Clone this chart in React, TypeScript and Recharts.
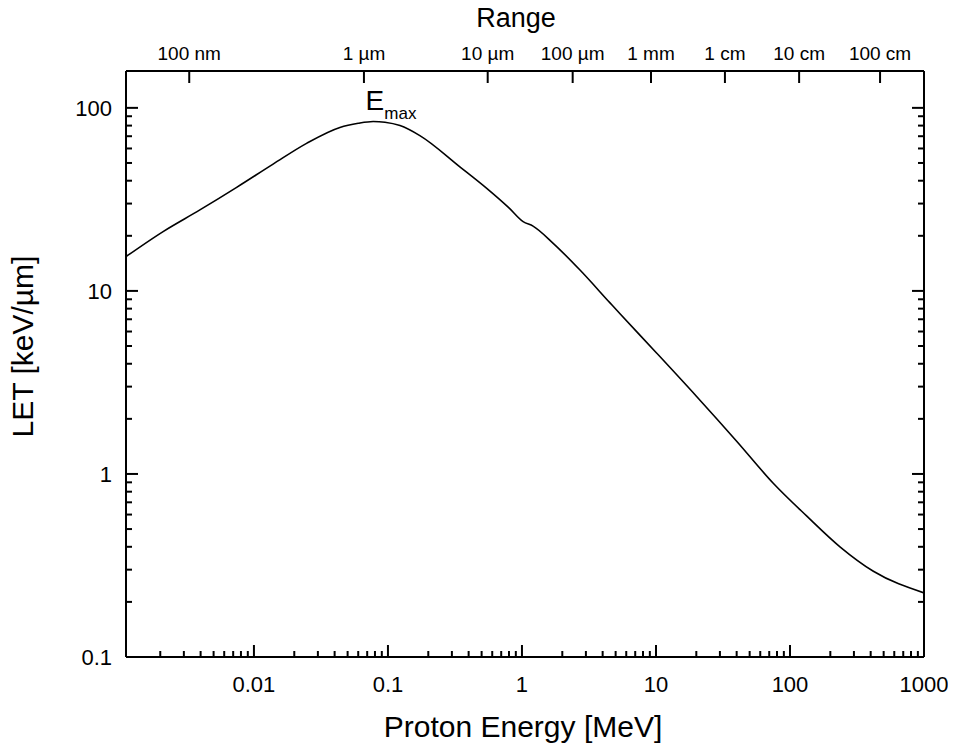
import React from 'react';
import { LineChart, Line, XAxis, YAxis, ReferenceDot } from 'recharts';

// Proton energy [MeV] and LET [keV/µm]
const energy = [0.00111, 0.0021, 0.00395, 0.00743, 0.0139, 0.0247, 0.0438, 0.06, 0.0776, 0.095, 0.123, 0.173, 0.344, 0.546, 0.8, 1.02, 1.21, 1.71, 2.71, 4.54, 5.39, 10.1, 20.1, 40, 75, 133, 236, 419, 1000];
const letValues = [15.4, 21.1, 27.7, 36.8, 49.3, 64.0, 78.2, 82.4, 84.3, 83.5, 80.0, 70.5, 47.6, 36.3, 28.4, 23.9, 22.6, 18.2, 13.0, 8.6, 7.5, 4.58, 2.65, 1.51, 0.89, 0.59, 0.40, 0.294, 0.224];

// Bottom axis ticks
const E_MAJOR = [0.01, 0.1, 1, 10, 100, 1000];
const E_MAJOR_LABELS = ['0.01', '0.1', '1', '10', '100', '1000'];
const E_DECADES = [0.001, 0.01, 0.1, 1, 10, 100];
const MINOR_MULT = [2, 3, 4, 5, 6, 7, 8, 9];

// Left / right axis ticks
const LET_MAJOR = [0.1, 1, 10, 100];
const LET_MAJOR_LABELS = ['0.1', '1', '10', '100'];
const LET_DECADES = [0.1, 1, 10];

// Top axis (range) ticks: energy positions and labels
const RANGE_E = [0.00329, 0.0662, 0.555, 2.39, 9.18, 32.7, 117, 470];
const RANGE_LABELS = ['100 nm', '1 µm', '10 µm', '100 µm', '1 mm', '1 cm', '10 cm', '100 cm'];

const E_DOMAIN: [number, number] = [0.00111, 1000];
const LET_DOMAIN: [number, number] = [0.1, 159];

const data = energy.map((e, i) => ({ e, let: letValues[i] }));

const E_TICKS: number[] = [];
E_DECADES.forEach((d) => {
  MINOR_MULT.forEach((m) => E_TICKS.push(+(m * d).toPrecision(6)));
  E_TICKS.push(+(10 * d).toPrecision(6));
});
const LET_TICKS: number[] = [0.1];
LET_DECADES.forEach((d) => {
  MINOR_MULT.forEach((m) => LET_TICKS.push(+(m * d).toPrecision(6)));
  LET_TICKS.push(+(10 * d).toPrecision(6));
});

const FONT = '"Liberation Sans", Arial, Helvetica, sans-serif';

const majorIndex = (v: number, majors: number[]) =>
  majors.findIndex((m) => Math.abs(Math.log10(v) - Math.log10(m)) < 1e-6);

function BottomTick(props: any) {
  const { x, y, payload } = props;
  const idx = majorIndex(payload.value, E_MAJOR);
  const len = idx >= 0 ? 12 : 6;
  return (
    <g>
      <line x1={x} x2={x} y1={y} y2={y - len} stroke="#000" strokeWidth={2} />
      {idx >= 0 && (
        <text x={x} y={y + 35} textAnchor="middle" fontSize={22} fontFamily={FONT} fill="#000">
          {E_MAJOR_LABELS[idx]}
        </text>
      )}
    </g>
  );
}

function TopTick(props: any) {
  const { x, y, payload, index } = props;
  const i = RANGE_E.indexOf(payload.value);
  return (
    <g>
      <line x1={x} x2={x} y1={y} y2={y + 12} stroke="#000" strokeWidth={2} />
      <text x={x} y={y - 11} textAnchor="middle" fontSize={19} fontFamily={FONT} fill="#000">
        {RANGE_LABELS[i >= 0 ? i : index]}
      </text>
    </g>
  );
}

function LeftTick(props: any) {
  const { x, y, payload } = props;
  const idx = majorIndex(payload.value, LET_MAJOR);
  const len = idx >= 0 ? 12 : 6;
  return (
    <g>
      <line x1={x} x2={x + len} y1={y} y2={y} stroke="#000" strokeWidth={2} />
      {idx >= 0 && (
        <text x={x - 14} y={y + 8} textAnchor="end" fontSize={22} fontFamily={FONT} fill="#000">
          {LET_MAJOR_LABELS[idx]}
        </text>
      )}
    </g>
  );
}

function RightTick(props: any) {
  const { x, y, payload } = props;
  const idx = majorIndex(payload.value, LET_MAJOR);
  const len = idx >= 0 ? 12 : 6;
  return <line x1={x} x2={x - len} y1={y} y2={y} stroke="#000" strokeWidth={2} />;
}

const axisLine = { stroke: '#000', strokeWidth: 2 };

export default function App() {
  return (
    <div style={{ width: 956, height: 749, margin: '-8px 0 0 -8px', background: '#fff' }}>
      <LineChart
        width={956}
        height={749}
        data={data}
        margin={{ top: 41, right: 22, bottom: 62, left: 66 }}
      >
        <XAxis
          xAxisId="bottom"
          dataKey="e"
          type="number"
          scale="log"
          domain={E_DOMAIN}
          allowDataOverflow
          ticks={E_TICKS}
          interval={0}
          tick={BottomTick}
          tickLine={false}
          tickSize={0}
          tickMargin={0}
          axisLine={axisLine}
          height={30}
          label={(p: any) => {
            const vb = p.viewBox || { x: 126, y: 657, width: 798 };
            return (
              <text x={vb.x + vb.width / 2 - 2} y={vb.y + 80} textAnchor="middle" fontSize={30} fontFamily={FONT} fill="#000">
                Proton Energy [MeV]
              </text>
            );
          }}
        />
        <XAxis
          xAxisId="top"
          orientation="top"
          dataKey="e"
          type="number"
          scale="log"
          domain={E_DOMAIN}
          allowDataOverflow
          ticks={RANGE_E}
          interval={0}
          tick={TopTick}
          tickLine={false}
          tickSize={0}
          tickMargin={0}
          axisLine={axisLine}
          height={30}
          label={(p: any) => {
            const vb = p.viewBox || { x: 126, y: 41, width: 798 };
            return (
              <text x={vb.x + vb.width / 2 - 9} y={vb.y - 14} textAnchor="middle" fontSize={27} fontFamily={FONT} fill="#000">
                Range
              </text>
            );
          }}
        />
        <YAxis
          yAxisId="left"
          type="number"
          scale="log"
          domain={LET_DOMAIN}
          allowDataOverflow
          ticks={LET_TICKS}
          interval={0}
          tick={LeftTick}
          tickLine={false}
          tickSize={0}
          tickMargin={0}
          axisLine={axisLine}
          width={60}
          label={(p: any) => {
            const vb = p.viewBox || { x: 66, y: 71, width: 60, height: 586 };
            const cx = vb.x - 33;
            const cy = vb.y + vb.height / 2 - 17.5;
            return (
              <text x={cx} y={cy} transform={`rotate(-90 ${cx} ${cy})`} textAnchor="middle" fontSize={30} fontFamily={FONT} fill="#000">
                LET [keV/µm]
              </text>
            );
          }}
        />
        <YAxis
          yAxisId="right"
          orientation="right"
          type="number"
          scale="log"
          domain={LET_DOMAIN}
          allowDataOverflow
          ticks={LET_TICKS}
          interval={0}
          tick={RightTick}
          tickLine={false}
          tickSize={0}
          tickMargin={0}
          axisLine={axisLine}
          width={10}
        />
        <Line
          xAxisId="bottom"
          yAxisId="left"
          dataKey="let"
          type="monotone"
          dot={false}
          stroke="#000"
          strokeWidth={1.6}
          isAnimationActive={false}
        />
        <ReferenceDot
          xAxisId="bottom"
          yAxisId="left"
          x={0.0776}
          y={84.3}
          r={0}
          ifOverflow="visible"
          shape={(p: any) => (
            <text x={p.cx - 7.6} y={p.cy - 11.3} fontSize={28} fontFamily={FONT} fill="#000">
              E
              <tspan dy={9} fontSize={17}>max</tspan>
            </text>
          )}
        />
      </LineChart>
    </div>
  );
}
